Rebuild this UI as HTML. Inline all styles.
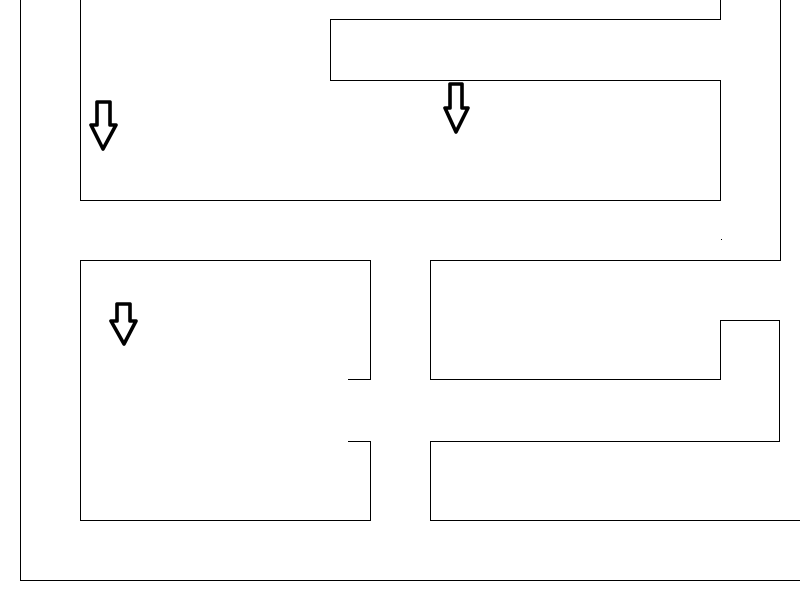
<!DOCTYPE html>
<html><head><style>html,body{margin:0;padding:0;background:#fff}svg{display:block}</style></head>
<body>
<svg width="800" height="600" viewBox="0 0 800 600" xmlns="http://www.w3.org/2000/svg">
<g fill="none" stroke="#000" stroke-width="1">
<polyline points="20.5,0 20.5,580.5 800,580.5"/>
<polyline points="80.5,0 80.5,200.5 720.5,200.5 720.5,80.5 330.5,80.5 330.5,19.5 720.5,19.5 720.5,0"/>
<polyline points="780.5,0 780.5,260.5 430.5,260.5 430.5,379.5 720.5,379.5 720.5,320.5 779.5,320.5 779.5,441.5 430.5,441.5 430.5,520.5 800,520.5"/>
<polyline points="348,379.5 370.5,379.5 370.5,260.5 80.5,260.5 80.5,520.5 370.5,520.5 370.5,441.5 348,441.5"/>
</g>
<rect x="721" y="239" width="1" height="1" fill="#000"/>
<g fill="none" stroke="#000" stroke-width="3.6" stroke-linejoin="round">
<polygon points="97,102 110,102 110,125 116,125 103,149 91,125 97,125"/>
<polygon points="450,84 462,84 462,108 468,108 456,132 445,108 450,108"/>
<polygon points="117,304 130,304 130,321 136,321 124,344 111,321 117,321"/>
</g>
</svg>
</body></html>
